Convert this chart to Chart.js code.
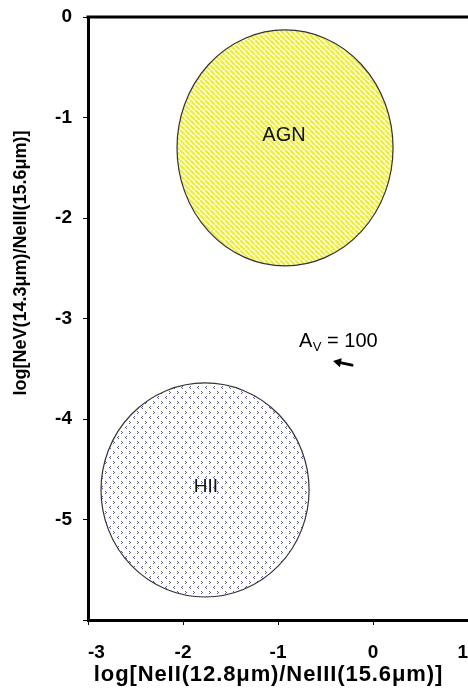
<!DOCTYPE html>
<html><head><meta charset="utf-8">
<script src="https://cdn.jsdelivr.net/npm/chart.js@4.4.1/dist/chart.umd.min.js"></script>
<style>html,body{margin:0;padding:0;background:#fff;overflow:hidden}#wrap{width:468px;height:692px}</style>
</head><body><div id="wrap"><canvas id="c" width="468" height="692"></canvas></div>
<script>
// ---- data (in axis units) ----
const regionNames = ['AGN', 'HII'];
const centerX = [-0.926, -1.768];
const centerY = [-1.303, -4.706];
const radiusX = [1.137, 1.095];
const radiusY = [1.174, 1.065];
const regionLabelX = [-0.937, -1.758];
const regionLabelY = [-1.181, -4.675];
const xTicks = [-3, -2, -1, 0, 1];
const yTicks = [0, -1, -2, -3, -4, -5];
const avMain = 'A', avSub = 'V', avRest = ' = 100';
const avLabelAt = [-0.779, -3.285];
const arrowFrom = [-0.221, -3.464];
const arrowTo = [-0.421, -3.424];
const xTitle = 'log[NeII(12.8\u03bcm)/NeIII(15.6\u03bcm)]';
const yTitle = 'log[NeV(14.3\u03bcm)/NeIII(15.6\u03bcm)]';

const FONT = "'Liberation Sans', Arial, sans-serif";

function makeStripe() {
  const s = 5, c = document.createElement('canvas');
  c.width = s; c.height = s;
  const g = c.getContext('2d');
  g.fillStyle = '#ffffff'; g.fillRect(0, 0, s, s);
  g.strokeStyle = '#eeee3a'; g.lineWidth = 2.5;
  for (const k of [-s, 0, s]) { g.beginPath(); g.moveTo(k, 0); g.lineTo(k + s, s); g.stroke(); }
  return c;
}
function makeDots() {
  const w = 8, h = 10, c = document.createElement('canvas');
  c.width = w; c.height = h;
  const g = c.getContext('2d');
  g.fillStyle = '#ffffff'; g.fillRect(0, 0, w, h);
  g.fillStyle = 'rgba(75,75,145,0.9)';
  const gt = (x, y) => { g.fillRect(x, y, 1, 1); g.fillRect(x + 1, y + 1, 1, 1); g.fillRect(x, y + 2, 1, 1); };
  const lt = (x, y) => { g.fillRect(x + 1, y, 1, 1); g.fillRect(x, y + 1, 1, 1); g.fillRect(x + 1, y + 2, 1, 1); };
  gt(1, 1); lt(5, 6);
  return c;
}

const regionPlugin = {
  id: 'regions',
  afterDatasetsDraw(chart) {
    const { ctx } = chart, xs = chart.scales.x, ys = chart.scales.y;
    const fills = [ctx.createPattern(makeStripe(), 'repeat'), ctx.createPattern(makeDots(), 'repeat')];
    ctx.save();
    regionNames.forEach((name, i) => {
      const cx = xs.getPixelForValue(centerX[i]), cy = ys.getPixelForValue(centerY[i]);
      const rx = Math.abs(xs.getPixelForValue(centerX[i] + radiusX[i]) - cx);
      const ry = Math.abs(ys.getPixelForValue(centerY[i] + radiusY[i]) - cy);
      ctx.beginPath(); ctx.ellipse(cx, cy, rx, ry, 0, 0, Math.PI * 2);
      ctx.fillStyle = fills[i]; ctx.fill();
      ctx.lineWidth = 1.2; ctx.strokeStyle = '#333'; ctx.stroke();
      ctx.fillStyle = '#111';
      ctx.font = (i === 0 ? '20px ' : '19px ') + FONT;
      ctx.textAlign = 'center'; ctx.textBaseline = 'middle';
      ctx.fillText(name, xs.getPixelForValue(regionLabelX[i]), ys.getPixelForValue(regionLabelY[i]));
    });
    // A_V label
    let ax = xs.getPixelForValue(avLabelAt[0]), ay = ys.getPixelForValue(avLabelAt[1]);
    ctx.textAlign = 'left'; ctx.textBaseline = 'alphabetic'; ctx.fillStyle = '#000';
    ctx.font = '20px ' + FONT; ctx.fillText(avMain, ax, ay);
    ax += ctx.measureText(avMain).width + 0.5;
    ctx.font = '13px ' + FONT; ctx.fillText(avSub, ax, ay + 4);
    ax += ctx.measureText(avSub).width;
    ctx.font = '20px ' + FONT; ctx.fillText(avRest, ax, ay);
    // arrow
    const fx = xs.getPixelForValue(arrowFrom[0]), fy = ys.getPixelForValue(arrowFrom[1]);
    const tx = xs.getPixelForValue(arrowTo[0]), ty = ys.getPixelForValue(arrowTo[1]);
    const ang = Math.atan2(ty - fy, tx - fx);
    ctx.strokeStyle = '#000'; ctx.lineWidth = 3; ctx.lineCap = 'round';
    ctx.beginPath(); ctx.moveTo(fx, fy);
    ctx.lineTo(tx - 5 * Math.cos(ang), ty - 5 * Math.sin(ang)); ctx.stroke();
    ctx.beginPath();
    ctx.moveTo(tx, ty);
    ctx.lineTo(tx - 8 * Math.cos(ang) + 4.5 * Math.sin(ang), ty - 8 * Math.sin(ang) - 4.5 * Math.cos(ang));
    ctx.lineTo(tx - 8 * Math.cos(ang) - 4.5 * Math.sin(ang), ty - 8 * Math.sin(ang) + 4.5 * Math.cos(ang));
    ctx.closePath(); ctx.fillStyle = '#000'; ctx.fill();
    ctx.restore();
  },
  afterDraw(chart) {
    const { ctx, chartArea } = chart;
    ctx.save();
    // top frame line
    ctx.strokeStyle = '#000'; ctx.lineWidth = 3;
    ctx.beginPath(); ctx.moveTo(chartArea.left - 1.5, chartArea.top); ctx.lineTo(chartArea.right, chartArea.top); ctx.stroke();
    ctx.fillStyle = '#000'; ctx.textAlign = 'center'; ctx.textBaseline = 'middle';
    // x axis title
    ctx.font = 'bold 22px ' + FONT;
    ctx.letterSpacing = '0.9px';
    ctx.fillText(xTitle, 268.5, 675);
    ctx.letterSpacing = '0px';
    // y axis title
    ctx.translate(21.5, 263); ctx.rotate(-Math.PI / 2);
    ctx.font = 'bold 18px ' + FONT;
    ctx.fillText(yTitle, 0, 0);
    ctx.restore();
  }
};

new Chart(document.getElementById('c'), {
  type: 'scatter',
  data: {
    datasets: [{
      data: regionNames.map((n, i) => ({ x: centerX[i], y: centerY[i] })),
      pointRadius: 0, showLine: false
    }]
  },
  options: {
    responsive: false, animation: false, events: [],
    layout: { autoPadding: false, padding: { top: 17, right: 0, left: 0, bottom: 0 } },
    plugins: { legend: { display: false }, tooltip: { enabled: false } },
    scales: {
      x: {
        type: 'linear', min: -3, max: 1,
        afterFit(s) { s.height = 72; s.paddingLeft = 0; s.paddingRight = 0; },
        ticks: {
          stepSize: 1, align: 'inner', padding: 16, color: '#000',
          font: { family: FONT, size: 19, weight: 'bold' },
          callback: v => xTicks.includes(v) ? String(v) : ''
        },
        grid: { drawOnChartArea: false, drawTicks: true, tickLength: 5, color: '#000', lineWidth: 1 },
        border: { display: true, width: 3, color: '#000' },
        title: { display: false }
      },
      y: {
        type: 'linear', min: -6, max: 0,
        afterFit(s) { s.width = 88; s.paddingTop = 0; s.paddingBottom = 0; },
        ticks: {
          stepSize: 1, padding: 11, color: '#000',
          font: { family: FONT, size: 19, weight: 'bold' },
          callback: v => yTicks.includes(v) ? String(v) : ''
        },
        grid: { drawOnChartArea: false, drawTicks: true, tickLength: 5, color: '#000', lineWidth: 1 },
        border: { display: true, width: 3, color: '#000' }
      }
    }
  },
  plugins: [regionPlugin]
});
</script></body></html>
